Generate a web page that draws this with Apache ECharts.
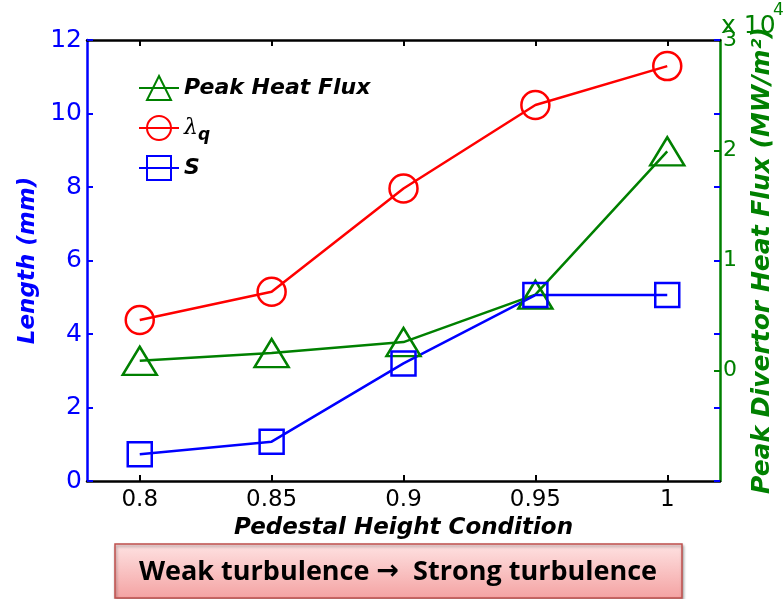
<!DOCTYPE html>
<html>
<head>
<meta charset="utf-8">
<script src="https://cdn.jsdelivr.net/npm/echarts@6/dist/echarts.min.js"></script>
<style>html,body{margin:0;padding:0;background:#fff;}#c{width:784px;height:599px;}</style>
</head>
<body>
<div id="c"></div>
<script>
// ---- data ----
const xValues = [0.8, 0.85, 0.9, 0.95, 1.0];
const xTickValues = [0.8, 0.85, 0.9, 0.95, 1];
const peakHeatFlux = [0.09, 0.16, 0.26, 0.69, 1.99];   // x 10^4 MW/m^2 (right axis)
const lambdaQ = [4.38, 5.15, 7.96, 10.23, 11.29];      // mm (left axis)
const sValues = [0.73, 1.07, 3.2, 5.06, 5.06];         // mm (left axis)
const leftTicks = [0, 2, 4, 6, 8, 10, 12];
const rightTicks = [-1, 0, 1, 2, 3];
const seriesNames = ['Peak Heat Flux', 'λq', 'S'];

const BLUE = '#0000ff', RED = '#ff0000', GREEN = '#008000';
const FONT = 'DejaVu Sans';
const zip = (xs, ys) => xs.map((x, i) => [x, ys[i]]);

const chart = echarts.init(document.getElementById('c'), null, {renderer: 'canvas'});

function lineSeries(name, data, color, symbol, size, yIdx) {
  return {
    name: name, type: 'line', data: data, yAxisIndex: yIdx,
    symbol: symbol, symbolSize: size, showAllSymbol: true,
    lineStyle: {color: color, width: 2.5},
    itemStyle: {color: 'rgba(255,255,255,0)', borderColor: color, borderWidth: 2.5},
    emphasis: {disabled: true}, animation: false, z: 3
  };
}

const legendBase = {
  orient: 'vertical', left: 133, itemWidth: 40, itemHeight: 30, itemGap: 10,
  selectedMode: false,
  textStyle: {
    fontFamily: FONT, fontSize: 22, fontWeight: 'bold', fontStyle: 'italic', color: '#000',
    rich: {
      l: {fontFamily: 'DejaVu Serif', fontStyle: 'italic', fontWeight: 'normal', fontSize: 22, color: '#000'},
      q: {fontFamily: FONT, fontStyle: 'italic', fontWeight: 'bold', fontSize: 17, color: '#000', padding: [16, 0, 0, 0]}
    }
  },
  formatter: function (n) { return n === 'λq' ? '{l|λ}{q|q}' : n; }
};

const option = {
  animation: false,
  grid: {left: 87, right: 64, top: 40, bottom: 118, containLabel: false},
  legend: [
    Object.assign({}, legendBase, {top: 70, data: [seriesNames[0]]}),
    Object.assign({}, legendBase, {top: 110, data: [seriesNames[1]]}),
    Object.assign({}, legendBase, {top: 150, data: [seriesNames[2]]})
  ],
  xAxis: [
    {
      type: 'value', position: 'bottom', min: 0.78, max: 1.02,
      axisLine: {show: true, onZero: false, lineStyle: {color: '#000', width: 2.5}},
      axisTick: {show: true, inside: true, length: 6, lineStyle: {color: '#000', width: 2}, customValues: xTickValues},
      axisLabel: {show: true, customValues: xTickValues, margin: 8, color: '#000', fontFamily: FONT, fontSize: 23,
        formatter: v => String(+v.toFixed(2))},
      splitLine: {show: false},
      name: 'Pedestal Height Condition', nameLocation: 'middle', nameGap: 26,
      nameTextStyle: {color: '#000', fontFamily: FONT, fontSize: 23, fontWeight: 'bold', fontStyle: 'italic'}
    },
    {
      type: 'value', position: 'top', min: 0.78, max: 1.02,
      axisLine: {show: true, onZero: false, lineStyle: {color: '#000', width: 2.5}},
      axisTick: {show: true, inside: true, length: 6, lineStyle: {color: '#000', width: 2}, customValues: xTickValues},
      axisLabel: {show: false}, splitLine: {show: false}
    }
  ],
  yAxis: [
    {
      type: 'value', position: 'left', min: 0, max: 12, interval: 2,
      axisLine: {show: true, onZero: false, lineStyle: {color: BLUE, width: 2.5}},
      axisTick: {show: true, inside: true, length: 6, lineStyle: {color: BLUE, width: 2}},
      axisLabel: {color: BLUE, fontFamily: FONT, fontSize: 25, margin: 5},
      splitLine: {show: false},
      name: 'Length (mm)', nameLocation: 'middle', nameGap: 40, nameRotate: 90,
      nameTextStyle: {color: BLUE, fontFamily: FONT, fontSize: 23, fontWeight: 'bold', fontStyle: 'italic'}
    },
    {
      type: 'value', position: 'right', min: -1, max: 3, interval: 1,
      axisLine: {show: true, onZero: false, lineStyle: {color: GREEN, width: 2.5}},
      axisTick: {show: true, inside: true, length: 6, lineStyle: {color: GREEN, width: 2}},
      axisLabel: {color: GREEN, fontFamily: FONT, fontSize: 22, margin: 3,
        formatter: v => (v === -1 ? '' : String(v))},
      splitLine: {show: false},
      name: 'Peak Divertor Heat Flux (MW/m²)', nameLocation: 'middle', nameGap: 30, nameRotate: 90,
      nameTextStyle: {color: GREEN, fontFamily: FONT, fontSize: 25, fontWeight: 'bold', fontStyle: 'italic'}
    },
    {
      type: 'value', position: 'right', min: 0, max: 12, interval: 2,
      axisLine: {show: false, onZero: false},
      axisTick: {show: true, inside: true, length: 6, lineStyle: {color: BLUE, width: 2}},
      axisLabel: {show: false}, splitLine: {show: false}
    }
  ],
  series: [
    lineSeries(seriesNames[0], zip(xValues, peakHeatFlux), GREEN, 'triangle', [34, 28], 1),
    lineSeries(seriesNames[1], zip(xValues, lambdaQ), RED, 'circle', 28, 0),
    lineSeries(seriesNames[2], zip(xValues, sValues), BLUE, 'rect', 24, 0)
  ],
  graphic: [
    {
      type: 'text', x: 721, y: 39, z: 10,
      style: {text: 'x 10', fontFamily: FONT, fontSize: 25, fill: GREEN, align: 'left', verticalAlign: 'bottom'}
    },
    {
      type: 'text', x: 773, y: 19, z: 10,
      style: {text: '4', fontFamily: FONT, fontSize: 17, fill: GREEN, align: 'left', verticalAlign: 'bottom'}
    },
    {
      type: 'rect', shape: {x: 115, y: 544, width: 567, height: 54}, z: 10,
      style: {
        fill: new echarts.graphic.LinearGradient(0, 0, 0, 1, [
          {offset: 0, color: '#fee3e3'}, {offset: 1, color: '#f4a2a2'}
        ]),
        stroke: '#c0504d', lineWidth: 1.5,
        shadowBlur: 3, shadowColor: 'rgba(0,0,0,0.35)', shadowOffsetX: 1, shadowOffsetY: 2
      }
    },
    {
      type: 'text', x: 398, y: 572, z: 11,
      style: {
        text: '{t|Weak turbulence }{a|→}{t|  Strong turbulence}',
        align: 'center', verticalAlign: 'middle',
        rich: {
          t: {fontFamily: 'Open Sans', fontSize: 27, fontWeight: 'bold', fill: '#000'},
          a: {fontFamily: FONT, fontSize: 27, fontWeight: 'bold', fill: '#000'}
        }
      }
    }
  ]
};
chart.setOption(option);
</script>
</body>
</html>
